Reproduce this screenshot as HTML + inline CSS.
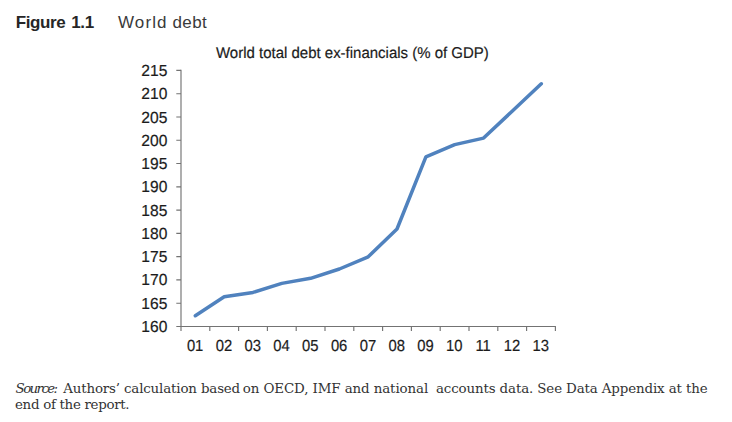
<!DOCTYPE html>
<html lang="en">
<head>
<meta charset="utf-8">
<title>Figure 1.1 World debt</title>
<style>
  html, body { margin: 0; padding: 0; background: #ffffff; }
  body { width: 732px; height: 422px; overflow: hidden; }
  svg { display: block; }
  .sans { font-family: "Liberation Sans", Arial, sans-serif; }
  .serif { font-family: "DejaVu Serif", "Liberation Serif", serif; }
  .ax { font-family: "Liberation Sans", Arial, sans-serif; font-size: 16px; fill: #1c1c1c; text-rendering: geometricPrecision; stroke: #1c1c1c; stroke-width: 0.2px; }
</style>
</head>
<body>
<svg width="732" height="422" viewBox="0 0 732 422">
  <rect x="0" y="0" width="732" height="422" fill="#ffffff"/>

  <!-- Figure heading -->
  <text class="sans" x="15.8" y="27.9" font-size="17" font-weight="bold" fill="#262626" letter-spacing="-0.4">Figure</text>
  <text class="sans" x="71.2" y="27.9" font-size="17" font-weight="bold" fill="#262626" letter-spacing="-0.3">1.1</text>
  <text class="sans" x="118" y="27.9" font-size="17" fill="#3a3a3a" letter-spacing="1.1">World</text>
  <text class="sans" x="172.4" y="27.9" font-size="17" fill="#3a3a3a" letter-spacing="0.45">debt</text>

  <!-- Chart title -->
  <text class="ax" x="216" y="57.8" style="font-size:15.6px" textLength="272.8" lengthAdjust="spacingAndGlyphs">World total debt ex-financials (% of GDP)</text>

  <!-- Axes -->
  <g stroke="#737373" stroke-width="1.15" fill="none" stroke-linecap="butt">
    <path d="M181 69.8 V327"/>
    <path d="M176.3 326.5 H555.9"/>
    <!-- y ticks -->
    <path d="M176.3 70.4H181 M176.3 93.7H181 M176.3 117H181 M176.3 140.2H181 M176.3 163.5H181 M176.3 186.8H181 M176.3 210.1H181 M176.3 233.4H181 M176.3 256.6H181 M176.3 279.9H181 M176.3 303.2H181"/>
    <!-- x ticks -->
    <path d="M181 326.5V331 M209.8 326.5V331 M238.6 326.5V331 M267.4 326.5V331 M296.2 326.5V331 M325 326.5V331 M353.8 326.5V331 M382.6 326.5V331 M411.4 326.5V331 M440.2 326.5V331 M469 326.5V331 M497.8 326.5V331 M526.6 326.5V331 M555.4 326.5V331"/>
  </g>

  <!-- y labels -->
  <g class="ax" text-anchor="end">
    <text transform="translate(167.4 75.9) scale(0.975 1)">215</text>
    <text transform="translate(167.4 99.2) scale(0.975 1)">210</text>
    <text transform="translate(167.4 122.5) scale(0.975 1)">205</text>
    <text transform="translate(167.4 145.7) scale(0.975 1)">200</text>
    <text transform="translate(167.4 169.0) scale(0.975 1)">195</text>
    <text transform="translate(167.4 192.3) scale(0.975 1)">190</text>
    <text transform="translate(167.4 215.6) scale(0.975 1)">185</text>
    <text transform="translate(167.4 238.9) scale(0.975 1)">180</text>
    <text transform="translate(167.4 262.1) scale(0.975 1)">175</text>
    <text transform="translate(167.4 285.4) scale(0.975 1)">170</text>
    <text transform="translate(167.4 308.7) scale(0.975 1)">165</text>
    <text transform="translate(167.4 332.0) scale(0.975 1)">160</text>
  </g>

  <!-- x labels -->
  <g class="ax" text-anchor="middle">
    <text transform="translate(195.1 351) scale(0.925 1)">01</text>
    <text transform="translate(223.9 351) scale(0.925 1)">02</text>
    <text transform="translate(252.7 351) scale(0.925 1)">03</text>
    <text transform="translate(281.5 351) scale(0.925 1)">04</text>
    <text transform="translate(310.3 351) scale(0.925 1)">05</text>
    <text transform="translate(339.1 351) scale(0.925 1)">06</text>
    <text transform="translate(367.9 351) scale(0.925 1)">07</text>
    <text transform="translate(396.7 351) scale(0.925 1)">08</text>
    <text transform="translate(425.5 351) scale(0.925 1)">09</text>
    <text transform="translate(454.3 351) scale(0.925 1)">10</text>
    <text transform="translate(483.1 351) scale(0.925 1)">11</text>
    <text transform="translate(511.9 351) scale(0.925 1)">12</text>
    <text transform="translate(540.7 351) scale(0.925 1)">13</text>
  </g>

  <!-- data line -->
  <polyline fill="none" stroke="#5082be" stroke-width="3.5" stroke-linecap="round" stroke-linejoin="round"
    points="195.3,315.7 224.2,296.7 253,292.4 281.8,283.4 310.6,278.3 339.4,269.0 368.2,256.8 397,229.0 425.9,156.9 454.7,144.6 483.6,138.1 512.4,111.0 541.3,83.8"/>

  <!-- Source note -->
  <g class="serif" font-size="13.4" fill="#333333">
    <text x="15.6" y="392.7" font-style="italic" textLength="42.5" lengthAdjust="spacing">Source:</text>
    <text x="63.2" y="392.7" textLength="177" lengthAdjust="spacing">Authors’ calculation based</text>
    <text x="242.8" y="392.7" textLength="185.4" lengthAdjust="spacing">on OECD, IMF and national</text>
    <text x="436" y="392.7" textLength="271.6" lengthAdjust="spacing">accounts data. See Data Appendix at the</text>
    <text x="15" y="408.7" textLength="114.6" lengthAdjust="spacing">end of the report.</text>
  </g>
</svg>
</body>
</html>
